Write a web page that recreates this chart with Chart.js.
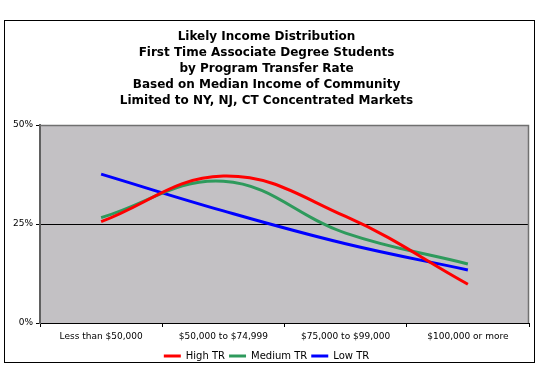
<!DOCTYPE html>
<html>
<head>
<meta charset="utf-8">
<script src="https://cdn.jsdelivr.net/npm/chart.js@4/dist/chart.umd.min.js"></script>
<style>
html,body{margin:0;padding:0;background:#fff;}
#wrap{position:absolute;left:0;top:0;width:540px;height:381px;}
</style>
</head>
<body>
<div id="wrap"><canvas id="c" width="540" height="381"></canvas></div>
<script>
const categories = ["Less than $50,000", "$50,000 to $74,999", "$75,000 to $99,000", "$100,000 or more"];
const highTR = [25.6, 37.1, 26.9, 9.8];
const mediumTR = [26.6, 35.8, 22.7, 14.9];
const lowTR = [37.6, 28.3, 20.0, 13.4];
const seriesNames = ["High TR", "Medium TR", "Low TR"];
const yTicks = [0, 25, 50];
const titleLines = [
  "Likely Income Distribution",
  "First Time Associate Degree Students",
  "by Program Transfer Rate",
  "Based on Median Income of Community",
  "Limited to NY, NJ, CT Concentrated Markets"
];

const FONT = "'DejaVu Sans', Verdana, sans-serif";

const framePlugin = {
  id: 'frame',
  beforeDraw(chart) {
    const ctx = chart.ctx, a = chart.chartArea;
    ctx.save();
    ctx.fillStyle = '#ffffff';
    ctx.fillRect(0, 0, chart.width, chart.height);
    ctx.strokeStyle = '#000000';
    ctx.lineWidth = 1;
    ctx.strokeRect(4.5, 20.5, 530, 342);
    ctx.fillStyle = '#c3c1c4';
    ctx.fillRect(a.left, a.top, a.right - a.left, a.bottom - a.top);
    ctx.restore();
  },
  beforeDatasetsDraw(chart) {
    const ctx = chart.ctx, a = chart.chartArea;
    ctx.save();
    ctx.strokeStyle = '#707070';
    ctx.lineWidth = 1.5;
    ctx.beginPath();
    ctx.moveTo(a.left, a.top + 0.5);
    ctx.lineTo(a.right - 0.5, a.top + 0.5);
    ctx.lineTo(a.right - 0.5, a.bottom);
    ctx.stroke();
    ctx.restore();
  }
};

new Chart(document.getElementById('c'), {
  type: 'line',
  data: {
    labels: categories,
    datasets: [
      {label: seriesNames[0], data: highTR, borderColor: '#ff0000', backgroundColor: '#ff0000', borderWidth: 3},
      {label: seriesNames[1], data: mediumTR, borderColor: '#2e9a5c', backgroundColor: '#2e9a5c', borderWidth: 3},
      {label: seriesNames[2], data: lowTR, borderColor: '#0000ff', backgroundColor: '#0000ff', borderWidth: 3}
    ]
  },
  options: {
    responsive: false,
    animation: false,
    devicePixelRatio: 1,
    layout: {padding: {left: 4, right: 11, top: 21, bottom: 10}},
    elements: {
      line: {borderWidth: 3, tension: 0.4, fill: false},
      point: {radius: 0, hoverRadius: 0}
    },
    plugins: {
      title: {
        display: true,
        text: titleLines,
        color: '#000',
        font: {family: FONT, size: 12, weight: 'bold', lineHeight: '16px'},
        padding: {top: 8, bottom: 16}
      },
      legend: {
        position: 'bottom',
        labels: {
          color: '#000',
          font: {family: FONT, size: 10},
          usePointStyle: true,
          pointStyle: 'line',
          pointStyleWidth: 17,
          boxHeight: 10,
          padding: 4
        }
      },
      tooltip: {enabled: false}
    },
    scales: {
      x: {
        offset: true,
        grid: {offset: true, display: true, drawOnChartArea: false, drawTicks: true, tickLength: 4, color: '#000', tickColor: '#000'},
        border: {display: true, color: '#000', width: 1},
        ticks: {color: '#000', font: {family: FONT, size: 9}, padding: 4, maxRotation: 0},
        afterFit(s) { s.height = 24; }
      },
      y: {
        min: 0, max: 50,
        afterBuildTicks(s) { s.ticks = yTicks.map(v => ({value: v})); },
        grid: {color: (c) => (c.tick && c.tick.value === 25 ? '#000' : 'rgba(0,0,0,0)'), tickColor: '#000', tickLength: 4, drawTicks: true},
        border: {display: true, color: '#606060', width: 2},
        ticks: {color: '#000', font: {family: FONT, size: 9}, padding: 3, callback: (v) => v + '%'},
        afterFit(s) { s.width = 36; }
      }
    }
  },
  plugins: [framePlugin]
});
</script>
</body>
</html>
